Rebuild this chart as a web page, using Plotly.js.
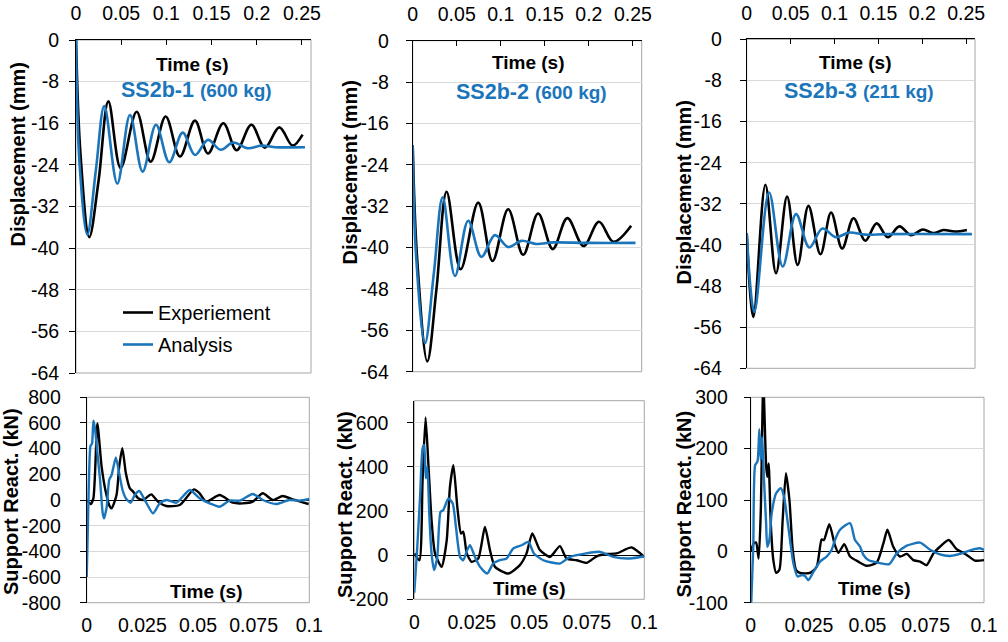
<!DOCTYPE html>
<html><head><meta charset="utf-8">
<script src="https://cdn.plot.ly/plotly-3.0.1.min.js"></script>
<style>body{margin:0;background:#fff}#chart{width:1008px;height:642px}</style>
</head><body><div id="chart"></div>
<script>
// ---------- Displacement (mm) vs time (s) ----------
const d1ExpT = [0, 0.005, 0.0147, 0.025, 0.0358, 0.0494, 0.0671, 0.0826, 0.0992, 0.115, 0.1316, 0.146, 0.163, 0.1777, 0.194, 0.209, 0.225, 0.2397, 0.2507];
const d1ExpY = [0, -22, -37.9, -27, -11.8, -24.6, -13.8, -23.4, -14.7, -22.4, -15.5, -21.8, -16.0, -21.2, -16.3, -20.7, -16.8, -20.3, -18.2];
const d1AnaT = [0, 0.004, 0.0125, 0.022, 0.0313, 0.0457, 0.0597, 0.0737, 0.0885, 0.1032, 0.118, 0.1316, 0.146, 0.160, 0.174, 0.19, 0.205, 0.22, 0.2533];
const d1AnaY = [0, -24, -37.4, -25, -12.7, -27.6, -14.4, -25.3, -16.3, -23.5, -17.8, -22.1, -19.2, -21.1, -19.7, -20.8, -20.3, -20.6, -20.6];

const d2ExpT = [0, 0.005, 0.0166, 0.027, 0.0385, 0.0544, 0.0744, 0.0906, 0.1084, 0.1254, 0.1424, 0.159, 0.1756, 0.194, 0.2115, 0.228, 0.248];
const d2ExpY = [-20.2, -42, -62.0, -48, -29.2, -44.2, -31.3, -42.6, -32.6, -41.4, -33.4, -40.3, -34.3, -39.7, -35.0, -38.9, -35.8];
const d2AnaT = [0, 0.004, 0.014, 0.024, 0.034, 0.048, 0.063, 0.078, 0.0933, 0.1084, 0.1235, 0.14, 0.16, 0.2, 0.253];
const d2AnaY = [-20.2, -42, -58.5, -45, -30.3, -45.5, -34.8, -41.8, -37.6, -39.9, -38.7, -39.3, -39.0, -39.1, -39.1];

const d3ExpT = [0, 0.0076, 0.0213, 0.0334, 0.046, 0.058, 0.0703, 0.084, 0.0961, 0.1087, 0.1216, 0.135, 0.148, 0.1607, 0.174, 0.187, 0.2006, 0.2128, 0.224, 0.237, 0.2508];
const d3ExpY = [-37.7, -54.0, -28.3, -45.5, -30.6, -43.9, -32.4, -41.8, -33.7, -40.7, -34.8, -39.2, -35.8, -38.5, -36.4, -38.1, -37.0, -37.7, -37.1, -37.4, -37.1];
const d3AnaT = [0, 0.0087, 0.0255, 0.041, 0.0562, 0.0714, 0.0862, 0.1014, 0.1166, 0.135, 0.16, 0.2565];
const d3AnaY = [-37.7, -53.0, -29.8, -44.2, -34.0, -40.5, -36.8, -38.5, -37.6, -38.0, -37.9, -37.9];

// ---------- Support reaction (kN) vs time (s) ----------
const r1ExpT = [0, 0.0018, 0.003, 0.0048, 0.0067, 0.0087, 0.0104, 0.0112, 0.0134, 0.0146, 0.016, 0.0176, 0.0194, 0.0209, 0.0231, 0.0254, 0.029, 0.032, 0.0358, 0.0418, 0.0482, 0.0507, 0.0537, 0.0597, 0.0657, 0.0701, 0.0746, 0.0791, 0.0836, 0.088, 0.0925, 0.0997];
const r1ExpY = [0, -31, 13, 597, 260, 52, -52, -65, 39, 260, 403, 208, 91, 65, 13, 0, 44, -13, -47, -39, 83, 52, -13, 39, -21, -26, -13, 52, 0, 31, 5, -31];
const r1AnaT = [0, 0.0004, 0.001, 0.0017, 0.0024, 0.003, 0.0037, 0.0045, 0.0052, 0.006, 0.0072, 0.0078, 0.009, 0.0101, 0.0112, 0.0131, 0.0146, 0.0161, 0.0176, 0.0197, 0.0216, 0.0236, 0.0261, 0.0298, 0.0328, 0.0358, 0.0403, 0.0463, 0.0507, 0.0552, 0.0597, 0.0642, 0.0687, 0.0746, 0.0791, 0.0851, 0.091, 0.0955, 0.1];
const r1AnaY = [-600, -300, 150, 420, 440, 618, 560, 420, 299, 156, -104, -143, -52, 156, 195, 332, 208, 78, 13, -21, 39, 70, 0, -104, -26, 0, -21, 78, 13, -26, -52, -5, -5, 47, 0, -31, 0, -5, 8];

const r2ExpT = [0, 0.0022, 0.0036, 0.0049, 0.0061, 0.0075, 0.009, 0.0119, 0.0141, 0.0155, 0.017, 0.0187, 0.0203, 0.0213, 0.0228, 0.0249, 0.0278, 0.0307, 0.0329, 0.0351, 0.0409, 0.0459, 0.0488, 0.0513, 0.0546, 0.059, 0.0633, 0.0662, 0.0706, 0.0749, 0.0793, 0.0836, 0.088, 0.0945, 0.1];
const r2ExpY = [8, -23, 340, 624, 416, 159, 8, -53, 68, 310, 408, 219, 98, 106, 8, -30, -15, 128, 23, -53, -83, -45, 8, 98, 23, -8, 41, -15, -23, -35, -5, 5, 8, 35, -8];
const r2AnaT = [0, 0.0013, 0.0025, 0.0036, 0.0043, 0.005, 0.0057, 0.0065, 0.0075, 0.0086, 0.01, 0.0114, 0.0126, 0.0148, 0.0167, 0.0181, 0.0199, 0.0213, 0.023, 0.0242, 0.0264, 0.0286, 0.0317, 0.0343, 0.0372, 0.0401, 0.043, 0.0467, 0.0496, 0.052, 0.0561, 0.0633, 0.0677, 0.0807, 0.0865, 0.0938, 0.1];
const r2AnaY = [-170, 38, 264, 483, 499, 348, 400, 189, 8, -68, -8, 196, 204, 257, 234, 128, -8, -23, 23, 45, -8, -53, -83, -38, -23, -15, 30, 45, 60, 8, -23, -38, -8, 15, -8, -15, -5];

const r3ExpT = [0, 0.0014, 0.0023, 0.0034, 0.0043, 0.0054, 0.0066, 0.0071, 0.0077, 0.0086, 0.0097, 0.0109, 0.0123, 0.0137, 0.0151, 0.0166, 0.018, 0.0194, 0.0211, 0.0254, 0.0283, 0.0304, 0.0314, 0.0337, 0.0361, 0.0376, 0.0401, 0.0426, 0.0461, 0.0497, 0.054, 0.0569, 0.0586, 0.0611, 0.064, 0.0669, 0.0697, 0.0726, 0.0754, 0.0783, 0.0811, 0.0849, 0.0883, 0.0926, 0.0961, 0.1];
const r3ExpY = [0, 16, 17, -14, 74, 330, 168, 145, 171, 55, -17, -42, -36, 61, 152, 100, 3, -36, -42, -42, -30, 23, 22, 53, 12, -3, 14, -10, -20, -28, -22, 16, 42, 9, -10, -5, -17, -20, -27, -4, 9, 22, 4, -7, -18, -17];
const r3AnaT = [0, 0.0011, 0.0019, 0.0029, 0.0037, 0.0043, 0.0049, 0.0057, 0.0066, 0.0071, 0.008, 0.009, 0.0109, 0.0129, 0.0143, 0.0161, 0.0183, 0.0201, 0.0219, 0.0233, 0.0247, 0.0269, 0.0297, 0.0326, 0.0347, 0.0361, 0.0383, 0.0426, 0.0447, 0.0469, 0.0483, 0.0504, 0.0554, 0.0594, 0.0626, 0.0669, 0.0726, 0.0769, 0.0811, 0.0854, 0.0897, 0.0947, 0.0983, 0.1];
const r3AnaY = [-130, 9, 168, 175, 238, 178, 223, 139, 55, 9, 22, 74, 113, 123, 106, 48, -23, -49, -46, -48, -56, -40, -20, -10, 3, 22, 42, 55, 22, 9, -7, -17, -23, -25, -4, 11, 17, 3, -6, -9, -5, 3, 6, 3];

// ---------- Labels / ticks ----------
const seriesNames = ['Experiement', 'Analysis'];
const panelTitles = ['SS2b-1', 'SS2b-2', 'SS2b-3'];
const panelMasses = ['(600 kg)', '(600 kg)', '(211 kg)'];
const dispTitle = 'Displacement (mm)';
const reactTitle = 'Support React. (kN)';
const timeTitle = 'Time (s)';
const dispTicks = [-64, -56, -48, -40, -32, -24, -16, -8, 0];
const dispTickText = ['-64', '-56', '-48', '-40', '-32', '-24', '-16', '-8', '0'];
const react1Ticks = [-800, -600, -400, -200, 0, 200, 400, 600, 800];
const react1TickText = ['-800', '-600', '-400', '-200', '0', '200', '400', '600', '800'];
const react2Ticks = [-200, 0, 200, 400, 600];
const react2TickText = ['-200', '0', '200', '400', '600'];
const react3Ticks = [-100, 0, 100, 200, 300];
const react3TickText = ['-100', '0', '100', '200', '300'];
const reactRanges = [[-800, 800], [-200, 700], [-100, 300]];

// ---------- Styling ----------
const FONT = 'Liberation Sans, Arial, sans-serif';
const BLACK = '#000000';
const BLUE = '#1B75BB';
const GRID = '#D9D9D9';
const BORDER = '#A6A6A6';

const dispData = [[d1ExpT, d1ExpY, d1AnaT, d1AnaY], [d2ExpT, d2ExpY, d2AnaT, d2AnaY], [d3ExpT, d3ExpY, d3AnaT, d3AnaY]];
const reactData = [[r1ExpT, r1ExpY, r1AnaT, r1AnaY], [r2ExpT, r2ExpY, r2AnaT, r2AnaY], [r3ExpT, r3ExpY, r3AnaT, r3AnaY]];
const reactTickSets = [[react1Ticks, react1TickText], [react2Ticks, react2TickText], [react3Ticks, react3TickText]];

const traces = [];
dispData.forEach((d, i) => {
  const ax = i + 1;
  const xa = ax === 1 ? 'x' : 'x' + ax, ya = ax === 1 ? 'y' : 'y' + ax;
  traces.push({x: d[0], y: d[1], xaxis: xa, yaxis: ya, type: 'scatter', mode: 'lines', name: seriesNames[0],
    line: {color: BLACK, width: 2.6, shape: 'spline', smoothing: 1}, showlegend: i === 0, legendgroup: 'e'});
  traces.push({x: d[2], y: d[3], xaxis: xa, yaxis: ya, type: 'scatter', mode: 'lines', name: seriesNames[1],
    line: {color: BLUE, width: 2.6, shape: 'spline', smoothing: 1}, showlegend: i === 0, legendgroup: 'a'});
});
reactData.forEach((d, i) => {
  const ax = i + 4;
  traces.push({x: d[0], y: d[1], xaxis: 'x' + ax, yaxis: 'y' + ax, type: 'scatter', mode: 'lines', name: seriesNames[0],
    line: {color: BLACK, width: 2.4, shape: 'spline', smoothing: 0.6}, showlegend: false});
  traces.push({x: d[2], y: d[3], xaxis: 'x' + ax, yaxis: 'y' + ax, type: 'scatter', mode: 'lines', name: seriesNames[1],
    line: {color: BLUE, width: 2.4, shape: 'spline', smoothing: 0.6}, showlegend: false});
});

// pixel boxes of plot areas [left, right, top, bottom]
const W = 1008, H = 642;
const boxes = [
  [76, 311, 40, 373], [412.7, 641.7, 40.7, 371.7], [746.7, 975, 39.3, 368.3],
  [86.7, 309.3, 397.3, 602.7], [414.3, 644.3, 400.7, 599.3], [750.7, 984, 397.3, 602.7]
];
const yStandoff = [6, 13, 14, 15, 15, 12];
const dx = b => [b[0] / W, b[1] / W];
const dy = b => [1 - b[3] / H, 1 - b[2] / H];

const tickFont = {family: FONT, size: 19.5, color: BLACK};
const layout = {
  width: W, height: H, margin: {l: 0, r: 0, t: 0, b: 0},
  paper_bgcolor: '#fff', plot_bgcolor: '#fff',
  font: {family: FONT, color: BLACK},
  showlegend: true,
  legend: {x: 118 / W, xanchor: 'left', y: 1 - 293 / H, yanchor: 'top', bgcolor: 'rgba(0,0,0,0)',
    font: {family: FONT, size: 20, color: BLACK}, traceorder: 'grouped', tracegroupgap: 3},
  shapes: [], annotations: []
};

for (let i = 0; i < 3; i++) {
  const n = i + 1, b = boxes[i];
  const xk = n === 1 ? 'xaxis' : 'xaxis' + n, yk = n === 1 ? 'yaxis' : 'yaxis' + n;
  const xr = n === 1 ? 'x' : 'x' + n, yr = n === 1 ? 'y' : 'y' + n;
  layout[xk] = {domain: dx(b), anchor: yr, side: 'top', range: [0, 0.26], dtick: 0.05, tick0: 0,
    showgrid: false, zeroline: false, showline: true, linecolor: BLACK, linewidth: 1,
    ticks: 'inside', ticklen: 5, tickcolor: BLACK, tickfont: tickFont, ticklabelstandoff: 11};
  layout[yk] = {domain: dy(b), anchor: xr, range: [-64, 0], tickmode: 'array', tickvals: dispTicks, ticktext: dispTickText,
    showgrid: true, gridcolor: GRID, zeroline: false, showline: true, linecolor: BLACK, linewidth: 1,
    ticks: 'outside', ticklen: 6, tickcolor: BLACK, tickfont: tickFont, ticklabelstandoff: yStandoff[i]};
  layout.shapes.push({type: 'rect', xref: xr + ' domain', yref: yr + ' domain', x0: 0, x1: 1, y0: 0, y1: 1,
    line: {color: BORDER, width: 1}, layer: 'below'});
}
for (let i = 0; i < 3; i++) {
  const n = i + 4, b = boxes[n - 1];
  const rr = reactRanges[i];
  layout['xaxis' + n] = {domain: dx(b), anchor: 'y' + n, side: 'bottom', range: [0, 0.1], dtick: 0.025, tick0: 0,
    showgrid: false, zeroline: false, showline: false,
    ticks: 'outside', ticklen: 3, tickcolor: 'rgba(0,0,0,0)', tickfont: tickFont, ticklabelstandoff: 2};
  layout['yaxis' + n] = {domain: dy(b), anchor: 'x' + n, range: rr, tickmode: 'array',
    tickvals: reactTickSets[i][0], ticktext: reactTickSets[i][1],
    showgrid: true, gridcolor: GRID, zeroline: true, zerolinecolor: BLACK, zerolinewidth: 1,
    showline: true, linecolor: BLACK, linewidth: 1,
    ticks: 'outside', ticklen: 6, tickcolor: BLACK, tickfont: tickFont, ticklabelstandoff: yStandoff[n - 1]};
  // tick marks drawn on the zero line (axis crossing at 0)
  const d = dy(b);
  const zeroPos = d[0] + (0 - rr[0]) / (rr[1] - rr[0]) * (d[1] - d[0]);
  layout['xaxis' + (n + 3)] = {overlaying: 'x' + n, anchor: 'free', position: zeroPos, side: 'bottom',
    range: [0, 0.1], dtick: 0.025, tick0: 0, showgrid: false, zeroline: false, showline: false,
    ticks: 'outside', ticklen: 5, tickcolor: BLACK, showticklabels: false};
  layout.shapes.push({type: 'rect', xref: 'x' + n + ' domain', yref: 'y' + n + ' domain', x0: 0, x1: 1, y0: 0, y1: 1,
    line: {color: BORDER, width: 1}, layer: 'below'});
}

// text placed like the original (axis titles, panel titles)
const ann = (txt, px, py, size, color, rot) => layout.annotations.push({
  text: txt, x: px / W, y: 1 - py / H, xref: 'paper', yref: 'paper', xanchor: 'center', yanchor: 'middle',
  showarrow: false, textangle: rot || 0, font: {family: FONT, size: size, color: color}});

const dispTitlePos = [[17.5, 154], [349.5, 172], [683.5, 192]];
const reactTitlePos = [[11, 502], [345, 505], [683.5, 504]];
const timeTopPos = [[192.5, 64], [528.5, 62], [855.5, 63]];
const timeBotPos = [[206.3, 591.5], [529.7, 588], [874.5, 588]];
const namePos = [[196, 90], [531, 92], [859, 91]];
for (let i = 0; i < 3; i++) {
  ann('<b>' + dispTitle + '</b>', dispTitlePos[i][0], dispTitlePos[i][1], 20, BLACK, -90);
  ann('<b>' + reactTitle + '</b>', reactTitlePos[i][0], reactTitlePos[i][1], 20, BLACK, -90);
  ann('<b>' + timeTitle + '</b>', timeTopPos[i][0], timeTopPos[i][1], 19, BLACK);
  ann('<b>' + timeTitle + '</b>', timeBotPos[i][0], timeBotPos[i][1], 19, BLACK);
  ann('<b>' + panelTitles[i] + ' <span style="font-size:19px">' + panelMasses[i] + '</span></b>', namePos[i][0], namePos[i][1], 21.5, BLUE);
}

Plotly.newPlot('chart', traces, layout, {displayModeBar: false, staticPlot: true});
</script>
</body></html>
